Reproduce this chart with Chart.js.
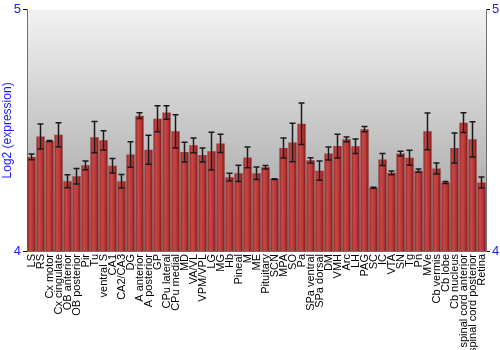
<!DOCTYPE html>
<html>
<head>
<meta charset="utf-8">
<script src="https://cdn.jsdelivr.net/npm/chart.js@4.4.1/dist/chart.umd.min.js"></script>
<style>
  html, body { margin: 0; padding: 0; background: #fff; }
  #wrap { width: 500px; height: 350px; }
</style>
</head>
<body>
<div id="wrap"><canvas id="chart"></canvas></div>
<script>
const regions = ['LS', 'RS', 'Cx motor', 'Cx cingulate', 'OB anterior', 'OB posterior', 'Pir', 'Tu',
    'ventral S', 'CA1', 'CA2/CA3', 'DG', 'A anterior', 'A posterior', 'GP', 'CPu lateral', 'CPu medial',
    'MD', 'VA/VL', 'VPM/VPL', 'LG', 'MG', 'Hb', 'Pineal', 'M', 'ME', 'Pituitary', 'SCN', 'MPA', 'SO',
    'Pa', 'SPa ventral', 'SPa dorsal', 'DM', 'VMH', 'Arc', 'LH', 'PAG', 'SC', 'IC', 'VTA', 'SN', 'Tg',
    'Pn', 'MVe', 'Cb vermis', 'Cb lobe', 'Cb nucleus', 'spinal cord anterior', 'spinal cord posterior', 'Retina'];

const expression = [4.390, 4.475, 4.456, 4.482, 4.289, 4.310, 4.355, 4.472,
    4.459, 4.353, 4.289, 4.400, 4.561, 4.420, 4.548, 4.574, 4.496,
    4.410, 4.438, 4.398, 4.414, 4.446, 4.306, 4.322, 4.388, 4.322, 4.347, 4.298, 4.427, 4.450,
    4.528, 4.376, 4.333, 4.404, 4.435, 4.463, 4.434, 4.505, 4.262, 4.379, 4.324, 4.404, 4.387,
    4.333, 4.496, 4.342, 4.284, 4.427, 4.532, 4.463, 4.284];

const errors = [0.012, 0.052, 0.002, 0.050, 0.027, 0.032, 0.018, 0.065,
    0.040, 0.030, 0.028, 0.053, 0.012, 0.060, 0.054, 0.028, 0.069,
    0.041, 0.031, 0.029, 0.078, 0.038, 0.016, 0.034, 0.043, 0.026, 0.007, 0.002, 0.041, 0.080,
    0.086, 0.011, 0.040, 0.027, 0.049, 0.010, 0.030, 0.011, 0.002, 0.025, 0.008, 0.010, 0.031,
    0.007, 0.076, 0.023, 0.004, 0.062, 0.041, 0.073, 0.023];

const yTicks = [4, 5];

const blue = '#1a1aff';

const backgroundPlugin = {
    id: 'plotBackground',
    beforeDraw(chart) {
        const { ctx, chartArea } = chart;
        const g = ctx.createLinearGradient(0, chartArea.top, 0, chartArea.bottom);
        g.addColorStop(0, '#f2f2f2');
        g.addColorStop(1, '#9a9a9a');
        ctx.save();
        ctx.fillStyle = g;
        ctx.fillRect(chartArea.left, chartArea.top, chartArea.right - chartArea.left, chartArea.bottom - chartArea.top);
        ctx.restore();
    }
};

const errorBarPlugin = {
    id: 'errorBars',
    afterDatasetsDraw(chart) {
        const { ctx } = chart;
        const y = chart.scales.y;
        const meta = chart.getDatasetMeta(0);
        ctx.save();
        ctx.strokeStyle = '#1a1a1a';
        ctx.lineWidth = 1.5;
        meta.data.forEach((bar, i) => {
            const top = y.getPixelForValue(expression[i] + errors[i]);
            const bottom = y.getPixelForValue(expression[i] - errors[i]);
            ctx.beginPath();
            ctx.moveTo(bar.x, top);
            ctx.lineTo(bar.x, bottom);
            ctx.moveTo(bar.x - 3, top);
            ctx.lineTo(bar.x + 3, top);
            ctx.moveTo(bar.x - 3, bottom);
            ctx.lineTo(bar.x + 3, bottom);
            ctx.stroke();
        });
        ctx.restore();
    }
};

const barFill = (c) => {
    const bar = c.chart.getDatasetMeta(0).data[c.dataIndex];
    if (!bar || !bar.width) {
        return '#b53535';
    }
    const left = bar.x - bar.width / 2;
    const g = c.chart.ctx.createLinearGradient(left, 0, left + bar.width, 0);
    g.addColorStop(0, '#8e2424');
    g.addColorStop(0.3, '#c94848');
    g.addColorStop(0.7, '#b53434');
    g.addColorStop(1, '#7a1818');
    return g;
};

const tickOptions = {
    color: blue,
    font: { family: 'Liberation Sans, Arial, sans-serif', size: 13 },
    padding: 2,
    callback: (v) => (yTicks.includes(v) ? v : '')
};

const chart = new Chart(document.getElementById('chart'), {
    type: 'bar',
    data: {
        labels: regions,
        datasets: [{
            data: expression,
            backgroundColor: barFill,
            borderWidth: 0,
            categoryPercentage: 1,
            barPercentage: 0.9
        }]
    },
    options: {
        responsive: true,
        maintainAspectRatio: false,
        animation: false,
        layout: { padding: { top: 9, right: 0, left: 0, bottom: 0 } },
        plugins: {
            legend: { display: false },
            tooltip: { enabled: false }
        },
        scales: {
            x: {
                grid: { display: false, drawTicks: false },
                border: { color: '#707070', width: 1 },
                ticks: {
                    color: '#000',
                    font: { family: 'Liberation Sans, Arial, sans-serif', size: 11 },
                    minRotation: 90,
                    maxRotation: 90,
                    autoSkip: false,
                    padding: 3
                },
                afterFit: (scale) => { scale.height = 99; }
            },
            y: {
                position: 'left',
                min: 4,
                max: 5,
                ticks: { ...tickOptions, stepSize: 1 },
                grid: { display: true, drawOnChartArea: false, tickLength: 4, color: '#000' },
                border: { color: '#707070', width: 1 },
                title: {
                    display: true,
                    text: 'Log2 (expression)',
                    color: blue,
                    font: { family: 'Liberation Sans, Arial, sans-serif', size: 12 },
                    padding: 0
                },
                afterFit: (scale) => { scale.width = 27; }
            },
            y2: {
                position: 'right',
                min: 4,
                max: 5,
                ticks: { ...tickOptions, stepSize: 1 },
                grid: { display: true, drawOnChartArea: false, tickLength: 4, color: '#000' },
                border: { color: '#707070', width: 1 },
                afterFit: (scale) => { scale.width = 14; }
            }
        }
    },
    plugins: [backgroundPlugin, errorBarPlugin]
});

chart.update('none');
</script>
</body>
</html>
